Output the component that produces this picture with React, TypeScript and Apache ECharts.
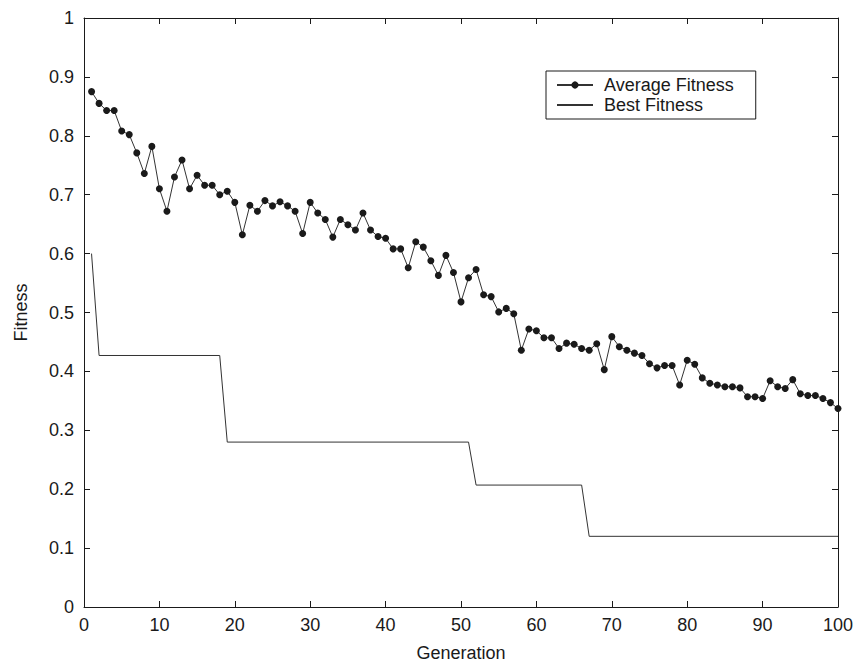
import React, { useEffect, useRef } from "react";
import * as echarts from "echarts";

const averageFitness: number[] = [
  0.875, 0.855, 0.843, 0.843, 0.808, 0.802, 0.771, 0.736, 0.782, 0.710,
  0.672, 0.730, 0.759, 0.710, 0.733, 0.716, 0.716, 0.700, 0.706, 0.687,
  0.632, 0.682, 0.672, 0.690, 0.681, 0.688, 0.681, 0.672, 0.634, 0.687,
  0.669, 0.658, 0.628, 0.658, 0.649, 0.640, 0.669, 0.640, 0.629, 0.626,
  0.608, 0.608, 0.576, 0.620, 0.611, 0.588, 0.563, 0.597, 0.568, 0.518,
  0.559, 0.573, 0.530, 0.527, 0.501, 0.507, 0.498, 0.436, 0.472, 0.469,
  0.457, 0.457, 0.439, 0.448, 0.446, 0.439, 0.436, 0.447, 0.403, 0.459,
  0.442, 0.436, 0.431, 0.427, 0.413, 0.406, 0.410, 0.410, 0.377, 0.419,
  0.412, 0.389, 0.380, 0.377, 0.374, 0.374, 0.372, 0.357, 0.357, 0.354,
  0.384, 0.374, 0.371, 0.386, 0.362, 0.359, 0.359, 0.354, 0.347, 0.337,
];

const bestGenerations: number[] = [1, 2, 18, 19, 51, 52, 66, 67, 100];
const bestFitness: number[] = [0.6, 0.427, 0.427, 0.28, 0.28, 0.207, 0.207, 0.12, 0.12];

const FONT = "'Liberation Sans', Arial, Helvetica, sans-serif";
const INK = "#1a1a1a";

export default function App() {
  const ref = useRef<HTMLDivElement>(null);

  useEffect(() => {
    document.body.style.margin = "0";
    if (!ref.current) return;
    const chart = echarts.init(ref.current, null, { renderer: "svg" });

    const avgData = averageFitness.map((v, i) => [i + 1, v]);
    const bestData = bestGenerations.map((g, i) => [g, bestFitness[i]]);

    const axisCommon = {
      type: "value" as const,
      splitLine: { show: false },
      axisLine: { show: true, onZero: false, lineStyle: { color: INK, width: 1 } },
      axisTick: { show: true, inside: true, length: 6, lineStyle: { color: INK } },
    };

    chart.setOption({
      animation: false,
      backgroundColor: "#ffffff",
      textStyle: { fontFamily: FONT },
      grid: { left: 84, right: 21, top: 18, bottom: 59, containLabel: false },
      legend: {
        orient: "vertical",
        left: 546,
        top: 71,
        padding: [5, 22, 5, 10],
        itemGap: 2,
        itemWidth: 36,
        itemHeight: 9,
        borderColor: INK,
        borderWidth: 1,
        backgroundColor: "#fff",
        textStyle: { fontFamily: FONT, fontSize: 18, color: INK, padding: [0, 0, 0, 6] },
        data: [
          { name: "Average Fitness" },
          { name: "Best Fitness", itemStyle: { opacity: 0 } },
        ],
      },
      xAxis: [
        {
          ...axisCommon,
          position: "bottom",
          min: 0,
          max: 100,
          interval: 10,
          name: "Generation",
          nameLocation: "middle",
          nameGap: 37,
          nameTextStyle: { fontFamily: FONT, fontSize: 18, color: INK },
          axisLabel: { fontFamily: FONT, fontSize: 18, color: INK, margin: 9 },
        },
        {
          ...axisCommon,
          position: "top",
          min: 0,
          max: 100,
          interval: 10,
          axisLabel: { show: false },
        },
      ],
      yAxis: [
        {
          ...axisCommon,
          position: "left",
          min: 0,
          max: 1,
          interval: 0.1,
          name: "Fitness",
          nameLocation: "middle",
          nameGap: 54,
          nameTextStyle: { fontFamily: FONT, fontSize: 18, color: INK },
          axisLabel: { fontFamily: FONT, fontSize: 18, color: INK, margin: 10 },
        },
        {
          ...axisCommon,
          position: "right",
          min: 0,
          max: 1,
          interval: 0.1,
          axisLabel: { show: false },
        },
      ],
      series: [
        {
          name: "Average Fitness",
          type: "line",
          xAxisIndex: 0,
          yAxisIndex: 0,
          data: avgData,
          symbol: "circle",
          symbolSize: 7,
          showSymbol: true,
          itemStyle: { color: INK, borderColor: INK, borderWidth: 0 },
          lineStyle: { color: "#333", width: 1 },
          z: 3,
        },
        {
          name: "Best Fitness",
          type: "line",
          xAxisIndex: 0,
          yAxisIndex: 0,
          data: bestData,
          symbol: "none",
          itemStyle: { color: "#333" },
          lineStyle: { color: "#333", width: 1 },
          z: 2,
        },
      ],
    });

    return () => chart.dispose();
  }, []);

  return <div ref={ref} style={{ width: 859, height: 667 }} />;
}
